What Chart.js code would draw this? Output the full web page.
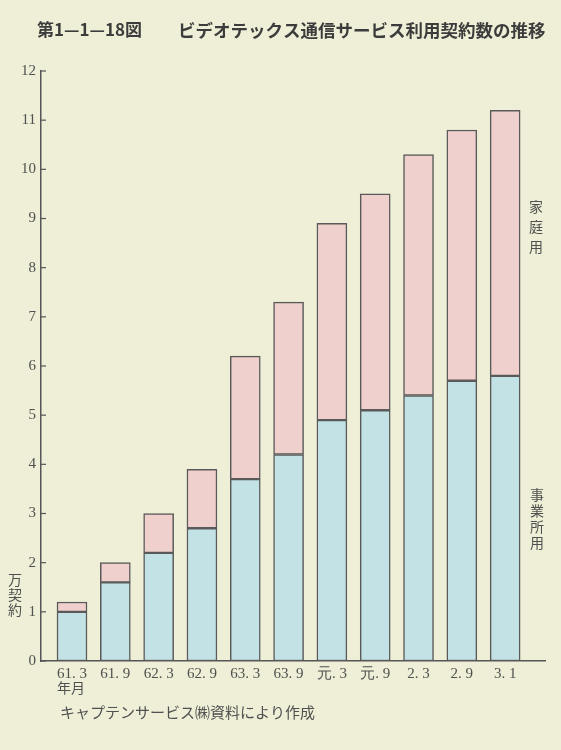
<!DOCTYPE html>
<html>
<head>
<meta charset="utf-8">
<script src="https://cdn.jsdelivr.net/npm/chart.js@4/dist/chart.umd.min.js"></script>
<style>
  html, body { margin: 0; padding: 0; background: #eeefd6; }
  #wrap { width: 561px; height: 750px; position: relative; }
</style>
</head>
<body>
<div id="wrap"><canvas id="chart" width="561" height="750"></canvas></div>
<script>
// periods (年月)
var periods = ["61. 3", "61. 9", "62. 3", "62. 9", "63. 3", "63. 9", "元. 3", "元. 9", "2. 3", "2. 9", "3. 1"];
// 事業所用 (万契約)
var business = [1.0, 1.6, 2.2, 2.7, 3.7, 4.2, 4.9, 5.1, 5.4, 5.7, 5.8];
// 家庭用 (万契約)
var home = [0.2, 0.4, 0.8, 1.2, 2.5, 3.1, 4.0, 4.4, 4.9, 5.1, 5.4];
var yTicks = [0, 1, 2, 3, 4, 5, 6, 7, 8, 9, 10, 11, 12];

var textGray = "#505050";
var serif = "'Liberation Serif', 'DejaVu Serif', serif";
var jp = "'Noto Sans CJK JP', sans-serif";

function toPoints(arr) {
    return arr.map(function (v, i) { return { x: i, y: v }; });
}

function vtext(ctx, str, x, y0, step) {
    for (var i = 0; i < str.length; i++) {
        ctx.fillText(str[i], x, y0 + i * step);
    }
}

var decorations = {
    id: 'decorations',
    afterDraw: function (chart) {
        var ctx = chart.ctx;
        var ys = chart.scales.y;
        var left = chart.chartArea.left;
        ctx.save();
        // inward tick marks on y axis
        ctx.strokeStyle = "#555555";
        ctx.lineWidth = 1.2;
        yTicks.forEach(function (t) {
            var py = ys.getPixelForValue(t);
            ctx.beginPath();
            ctx.moveTo(left, py);
            ctx.lineTo(left + 5, py);
            ctx.stroke();
        });

        // title
        ctx.fillStyle = "#3c3c3c";
        ctx.textBaseline = "middle";
        ctx.textAlign = "left";
        ctx.font = "bold 17px " + jp;
        ctx.fillText("第1—1—18図", 37, 30);
        ctx.font = "bold 17.5px " + jp;
        ctx.fillText("ビデオテックス通信サービス利用契約数の推移", 178, 30);

        ctx.fillStyle = textGray;
        ctx.textAlign = "center";
        ctx.font = "14px " + jp;
        vtext(ctx, "万契約", 15, 580, 15);
        vtext(ctx, "家庭用", 536, 207, 20);
        vtext(ctx, "事業所用", 537, 495, 16);

        ctx.textAlign = "left";
        ctx.font = "14px " + jp;
        ctx.fillText("年月", 57, 688);
        ctx.font = "15px " + jp;
        ctx.fillText("キャプテンサービス㈱資料により作成", 60, 712);
        ctx.restore();
    }
};

new Chart(document.getElementById("chart").getContext("2d"), {
    type: 'bar',
    data: {
        datasets: [
            {
                label: '事業所用',
                data: toPoints(business),
                backgroundColor: "#c2e2e6",
                borderColor: "#5a5a5a",
                borderWidth: 1.5,
                borderSkipped: false,
                barThickness: 30
            },
            {
                label: '家庭用',
                data: toPoints(home),
                backgroundColor: "#f0d0cc",
                borderColor: "#5a5a5a",
                borderWidth: 1.5,
                borderSkipped: false,
                barThickness: 30
            }
        ]
    },
    options: {
        responsive: false,
        animation: false,
        layout: { padding: { top: 71, right: 16, left: 0, bottom: 0 } },
        plugins: {
            legend: { display: false },
            tooltip: { enabled: false }
        },
        scales: {
            x: {
                type: 'linear',
                stacked: true,
                offset: false,
                min: -0.716,
                max: 10.92,
                afterBuildTicks: function (s) {
                    s.ticks = periods.map(function (p, i) { return { value: i }; });
                },
                afterFit: function (s) { s.height = 89; },
                grid: { display: false, drawTicks: false },
                border: { display: true, color: "#555555", width: 1.5 },
                ticks: {
                    autoSkip: false,
                    maxRotation: 0,
                    padding: 4,
                    color: textGray,
                    font: { family: serif, size: 15 },
                    callback: function (v) { return periods[v]; }
                }
            },
            y: {
                stacked: true,
                min: 0,
                max: 12,
                afterBuildTicks: function (s) {
                    s.ticks = yTicks.map(function (t) { return { value: t }; });
                },
                afterFit: function (s) { s.width = 41; },
                grid: { display: false, drawTicks: false },
                border: { display: true, color: "#555555", width: 1.5 },
                ticks: {
                    padding: 5,
                    color: textGray,
                    font: { family: serif, size: 15 }
                }
            }
        }
    },
    plugins: [decorations]
});
</script>
</body>
</html>
